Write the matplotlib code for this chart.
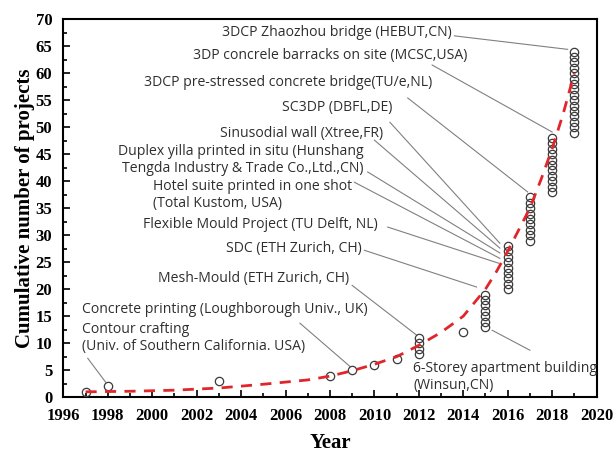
"""
Cumulative number of 3D concrete printing projects per year.
Writes out.png (615x455).
"""

import matplotlib
matplotlib.use("Agg")
import matplotlib.pyplot as plt
from matplotlib.ticker import MultipleLocator

# ── data ──────────────────────────────────────────────────────────────────────
# each year: first and last cumulative count of the stacked circles
stack_years = [1997, 1998, 2003, 2008, 2009, 2010, 2011, 2012, 2014, 2015, 2016, 2017, 2018, 2019]
stack_first = [1, 2, 3, 4, 5, 6, 7, 8, 12, 13, 20, 29, 38, 49]
stack_last  = [1, 2, 3, 4, 5, 6, 7, 11, 12, 19, 28, 37, 48, 64]

# fitted trend (red dashed)
fit_years  = [1997, 1999, 2001, 2003, 2005, 2007, 2008, 2009, 2010, 2011, 2012,
              2013, 2014, 2015, 2015.5, 2016, 2016.5, 2017, 2017.5, 2018, 2018.5, 2019]
fit_values = [1.0, 1.1, 1.3, 1.7, 2.4, 3.2, 3.9, 4.9, 6.1, 7.5, 9.6,
              12.0, 15.0, 20.0, 23.3, 27.0, 31.0, 35.0, 40.3, 46.0, 52.5, 60.0]

labels = [
    "3DCP Zhaozhou bridge (HEBUT,CN)",
    "3DP concrele barracks on site (MCSC,USA)",
    "3DCP pre-stressed concrete bridge(TU/e,NL)",
    "SC3DP (DBFL,DE)",
    "Sinusodial wall (Xtree,FR)",
    "Duplex yilla printed in situ (Hunshang",
    "Tengda Industry & Trade Co.,Ltd.,CN)",
    "Hotel suite printed in one shot",
    "(Total Kustom, USA)",
    "Flexible Mould Project (TU Delft, NL)",
    "SDC (ETH Zurich, CH)",
    "Mesh-Mould (ETH Zurich, CH)",
    "Concrete printing (Loughborough Univ., UK)",
    "Contour crafting",
    "(Univ. of Southern California. USA)",
    "6-Storey apartment building",
    "(Winsun,CN)",
]

x_ticks = list(range(1996, 2021, 2))
y_ticks = list(range(0, 71, 5))

# ── layout (data coords) ──────────────────────────────────────────────────────
label_xy = [
    (2003.15, 67.6), (2001.85, 63.3), (1999.65, 58.3), (2005.85, 53.7),
    (2003.05, 48.9), (1998.45, 45.4), (1998.65, 42.4), (2000.05, 39.1),
    (2000.05, 35.9), (1999.6, 32.0), (2003.3, 27.6), (2000.25, 21.9),
    (1996.85, 16.3), (1996.85, 12.6), (1996.85, 9.4), (2011.75, 5.4),
    (2011.75, 2.2),
]

leader_lines = [
    ((2013.6, 66.9), (2018.7, 64.4)),
    ((2012.6, 61.5), (2018.0, 49.1)),
    ((2011.5, 55.4), (2016.9, 38.0)),
    ((2010.7, 50.9), (2015.65, 28.5)),
    ((2010.0, 47.6), (2015.65, 27.6)),
    ((2009.7, 41.7), (2015.65, 26.7)),
    ((2009.1, 39.8), (2015.65, 25.7)),
    ((2010.6, 31.5), (2015.6, 24.8)),
    ((2009.55, 27.2), (2014.6, 20.4)),
    ((2009.0, 20.7), (2011.9, 11.5)),
    ((2006.65, 13.7), (2008.9, 5.7)),
    ((1997.1, 7.2), (1997.9, 2.8)),
    ((2015.3, 12.4), (2017.0, 8.7)),
]

TEXT_COLOR = "#2e2e2e"
LINE_COLOR = "#808080"
FIT_COLOR  = "#e0262b"


def main() -> None:
    fig = plt.figure(figsize=(6.15, 4.55), dpi=100)
    ax = fig.add_axes([0.103, 0.127, 0.867, 0.831])

    # stacked circles
    xs, ys = [], []
    for yr, lo, hi in zip(stack_years, stack_first, stack_last):
        for c in range(lo, hi + 1):
            xs.append(yr)
            ys.append(c)
    ax.plot(xs, ys, linestyle="none", marker="o", ms=6, mfc="none",
            mec="#3a3a3a", mew=0.9, zorder=3)

    # trend
    ax.plot(fit_years, fit_values, color=FIT_COLOR, lw=2.0,
            dashes=(4, 3), zorder=4)

    # leader lines
    for (x0, y0), (x1, y1) in leader_lines:
        ax.plot([x0, x1], [y0, y1], color=LINE_COLOR, lw=0.8, zorder=2)

    for text, (tx, ty) in zip(labels, label_xy):
        ax.text(tx, ty, text, ha="left", va="center", fontsize=10.1,
                family="Open Sans", color=TEXT_COLOR, zorder=5)

    ax.set_xlim(1996, 2020)
    ax.set_ylim(0, 70)
    ax.set_xticks(x_ticks)
    ax.set_yticks(y_ticks)
    ax.xaxis.set_minor_locator(MultipleLocator(1))
    ax.yaxis.set_minor_locator(MultipleLocator(2.5))
    ax.tick_params(which="both", direction="in", top=False, right=False,
                   width=1.2)
    ax.tick_params(which="major", length=5)
    ax.tick_params(which="minor", length=3)
    ax.tick_params(axis="x", which="major", pad=8)
    ax.tick_params(axis="y", which="major", pad=8)
    for lab in ax.get_xticklabels() + ax.get_yticklabels():
        lab.set_family("Liberation Serif")
        lab.set_fontweight("bold")
        lab.set_fontsize(12)
    for sp in ax.spines.values():
        sp.set_linewidth(1.5)

    ax.set_xlabel("Year", family="Liberation Serif", fontweight="bold",
                  fontsize=15, labelpad=6)
    ax.set_ylabel("Cumulative number of projects", family="Liberation Serif",
                  fontweight="bold", fontsize=15, labelpad=0)

    fig.savefig("out.png", dpi=100)
    plt.close(fig)


if __name__ == "__main__":
    main()
